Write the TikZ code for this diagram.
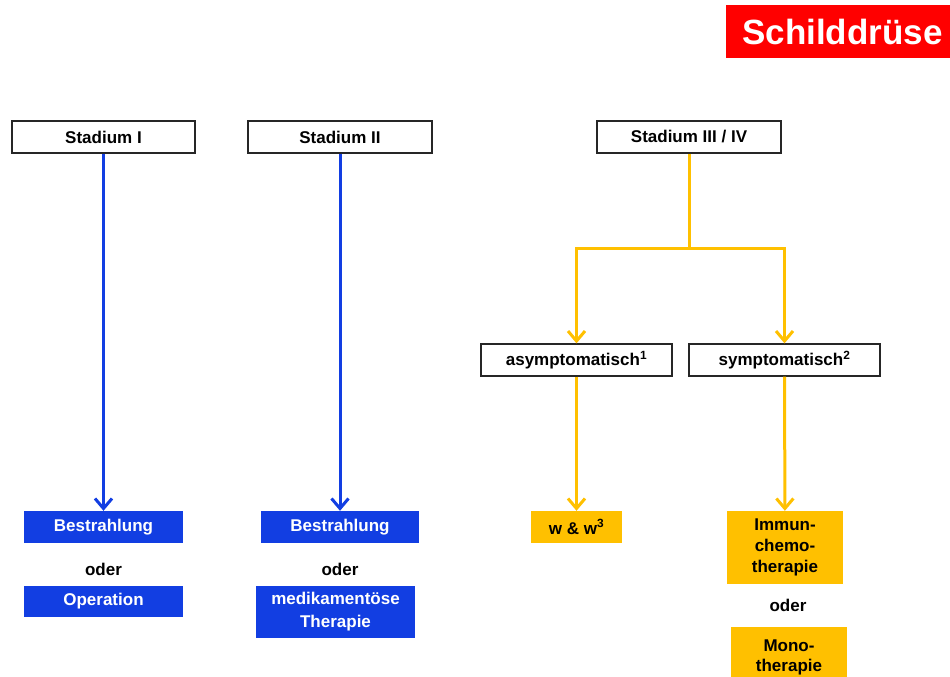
\documentclass[tikz,border=0pt]{standalone}
\usepackage{fontspec}
\setmainfont{Liberation Sans}
\usetikzlibrary{arrows.meta}
\definecolor{myblue}{RGB}{18,62,226}
\definecolor{mygold}{RGB}{255,192,0}
\definecolor{myred}{RGB}{255,0,0}
\tikzset{
  lbl/.style={font=\fontsize{17}{21}\selectfont\bfseries, align=center, inner sep=0pt},
  stagebox/.style={lbl, draw=black!85, line width=1.3pt, fill=white},
  bluebox/.style={lbl, fill=myblue, text=white},
  goldbox/.style={lbl, fill=mygold, text=black},
  bluearrow/.style={draw=myblue, line width=3pt, -{Straight Barb[length=10pt,width=17pt]}},
  goldarrow/.style={draw=mygold, line width=3pt, -{Straight Barb[length=10pt,width=17pt]}},
  goldline/.style={draw=mygold, line width=3pt},
}
\begin{document}
\begin{tikzpicture}[x=1pt,y=-1pt]
\useasboundingbox (0,0) rectangle (950,677);
\clip (0,0) rectangle (950,677);
% title
\node[fill=myred, text=white, font=\fontsize{35}{40}\selectfont\bfseries, minimum width=225pt, minimum height=53pt, inner sep=0pt] (title) at (838.5,31.5) {\hspace*{8pt}Schilddrüse};
% stages
\node[stagebox, minimum width=183pt, minimum height=32pt] (s1) at (103.5,137) {Stadium I};
\node[stagebox, minimum width=184pt, minimum height=32pt] (s2) at (340,137) {Stadium II};
\node[stagebox, minimum width=184pt, minimum height=32pt] (s3) at (689,137) {Stadium III / IV};
% symptom boxes
\node[stagebox, minimum width=191pt, minimum height=32pt] (asym) at (576.5,360) {asymptomatisch\textsuperscript{1}};
\node[stagebox, minimum width=191pt, minimum height=32pt] (sym) at (784.5,360) {symptomatisch\textsuperscript{2}};
% blue column 1
\node[bluebox, minimum width=159pt, minimum height=32pt] (b1) at (103.5,527) {Bestrahlung};
\node[lbl] (o1) at (103.5,569) {oder};
\node[bluebox, minimum width=159pt, minimum height=31pt] (op) at (103.5,601.5) {Operation};
% blue column 2
\node[bluebox, minimum width=158pt, minimum height=32pt] (b2) at (340,527) {Bestrahlung};
\node[lbl] (o2) at (340,569) {oder};
\node[bluebox, minimum width=159pt, minimum height=52pt] (med) at (335.5,612) {medikamentöse\\[2pt]Therapie};
% gold
\node[goldbox, minimum width=91pt, minimum height=32pt] (ww) at (576.5,527) {w \& w\textsuperscript{3}};
\node[goldbox, minimum width=116pt, minimum height=73pt] (imm) at (785,547.5) {Immun-\\chemo-\\therapie};
\node[lbl] (o3) at (788,605) {oder};
\node[goldbox, minimum width=116pt, minimum height=60pt] (mono) at (789,657) {Mono-\\[-1pt]therapie};
% connectors
\draw[bluearrow] (s1) -- (b1);
\draw[bluearrow] (s2) -- (b2);
\coordinate (split) at (689,248);
\draw[goldline] (s3) -- (split);
\draw[goldarrow] (split) -| (asym);
\draw[goldarrow] (split) -| (sym);
\draw[goldarrow] (asym) -- (ww);
\draw[goldarrow] (sym) -- (imm);
\end{tikzpicture}
\end{document}
